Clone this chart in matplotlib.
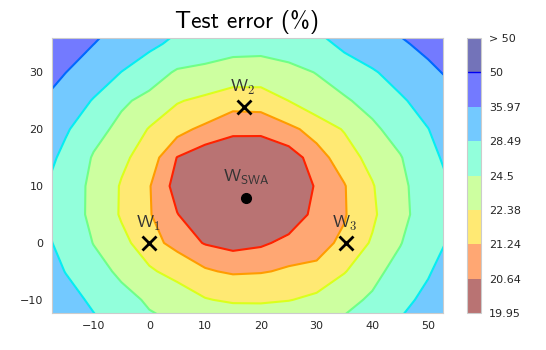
import os
import numpy as np
import matplotlib as mpl
import matplotlib.pyplot as plt
from matplotlib.font_manager import FontProperties

# grid of the loss plane (coords in the plane spanned by w1, w2, w3)
xs = [-20, -15, -10, -5, 0, 5, 10, 15, 20, 25, 30, 35, 40, 45, 50, 55]
ys = [-15, -10, -5, 0, 5, 10, 15, 20, 25, 30, 35, 40]

# test error (%), one row per y value
test_error = [
    [35.0, 32.2, 29.5, 27.2, 25.3, 24.6, 24.1, 23.9, 23.9, 24.1, 24.5, 25.2, 27.0, 29.2, 32.0, 35.0],
    [33.0, 30.2, 27.71, 25.54, 24.08, 23.27, 22.46, 22.18, 22.16, 22.32, 22.7, 23.7, 24.9, 27.15, 29.7, 33.0],
    [31.5, 28.35, 25.78, 23.86, 22.59, 21.85, 21.33, 21.13, 21.18, 21.34, 21.4, 22.28, 23.64, 25.58, 28.04, 31.5],
    [30.0, 27.14, 24.4, 22.82, 21.54, 20.97, 20.6, 20.45, 20.55, 20.79, 20.98, 21.4, 22.53, 24.35, 26.85, 29.5],
    [29.3, 26.2, 23.76, 22.21, 21.29, 20.66, 20.2, 19.99, 20.03, 20.3, 20.8, 21.17, 22.12, 23.66, 26.03, 29.1],
    [29.5, 26.26, 23.78, 22.24, 21.28, 20.4, 20.12, 19.95, 20.02, 20.25, 20.69, 21.19, 22.27, 23.8, 26.14, 29.1],
    [30.9, 27.35, 24.21, 22.74, 21.58, 20.62, 20.3, 20.15, 20.2, 20.4, 20.87, 21.7, 22.87, 24.3, 27.1, 30.4],
    [33.3, 29.0, 25.68, 23.61, 22.28, 21.48, 21.05, 20.8, 20.78, 21.0, 21.61, 22.49, 23.87, 25.86, 28.39, 32.3],
    [36.6, 32.3, 28.07, 25.04, 23.59, 22.49, 22.05, 21.5, 21.55, 22.39, 23.25, 24.1, 25.63, 27.74, 30.7, 34.2],
    [39.9, 36.05, 32.16, 28.4, 26.14, 24.1, 23.7, 23.35, 23.3, 23.7, 24.6, 26.23, 27.89, 30.75, 34.28, 37.9],
    [46.0, 40.6, 36.05, 32.7, 29.42, 27.5, 26.4, 25.5, 25.4, 26.0, 27.0, 29.5, 32.2, 34.9, 38.0, 43.0],
    [52.0, 45.0, 40.0, 36.0, 32.5, 30.0, 28.6, 28.0, 28.0, 28.8, 30.2, 32.5, 35.5, 39.0, 43.0, 48.0],
]

levels = [19.95, 20.64, 21.24, 22.38, 24.5, 28.49, 35.97, 50, 1e10]
level_labels = ['19.95', '20.64', '21.24', '22.38', '24.5', '28.49', '35.97', '50', '> 50']

# weights of the three networks and their average
w_x = [0, 16.9, 35.2]
w_y = [0, 23.9, 0]
w_names = [r'$\mathsf{W}_{\mathsf{1}}$', r'$\mathsf{W}_{\mathsf{2}}$', r'$\mathsf{W}_{\mathsf{3}}$']
swa_x = 17.4
swa_y = 7.9

plt.rcParams['mathtext.fontset'] = 'cm'
cmss = FontProperties(fname=os.path.join(mpl.get_data_path(), 'fonts', 'ttf', 'cmss10.ttf'))

fig = plt.figure(figsize=(5.46, 3.5), dpi=100)
ax = fig.add_axes([0.0947, 0.106, 0.716, 0.785])
cax = fig.add_axes([0.855, 0.106, 0.0256, 0.785])

cmap = plt.get_cmap('jet_r')
band_pos = [0.0, 0.195, 0.32, 0.45, 0.58, 0.72, 0.86, 1.0]
line_pos = [0.9 * k / 7 for k in range(8)]

X, Y = np.meshgrid(xs, ys)
Z = np.array(test_error)

cf = ax.contourf(X, Y, Z, levels=levels, colors=[cmap(p) for p in band_pos],
                 alpha=0.55, zorder=0)
ax.contour(X, Y, Z, levels=levels[1:-1], colors=[cmap(p) for p in line_pos[1:]],
           linewidths=1.5, zorder=1)

ax.plot(w_x, w_y, 'kx', ms=10, mew=2, zorder=3)
ax.plot([swa_x], [swa_y], 'ko', ms=7, zorder=3)

for x, y, name in zip(w_x, w_y, w_names):
    ax.text(x - 0.2, y + 3.4, name, ha='center', va='center', fontsize=13, color='#333333')
ax.text(swa_x, swa_y + 3.6, r'$\mathsf{W}_{\mathsf{SWA}}$', ha='center', va='center',
        fontsize=13, color='#333333')

ax.set_xlim(-17.5, 52.6)
ax.set_ylim(-12.3, 36)
ax.set_xticks([-10, 0, 10, 20, 30, 40, 50])
ax.set_yticks([-10, 0, 10, 20, 30])
ax.tick_params(length=0, labelsize=8, pad=6, colors='#262626')
for s in ax.spines.values():
    s.set_color('#cccccc')
ax.set_title('Test error (%)', fontproperties=cmss, fontsize=17, pad=7)

cbar = fig.colorbar(cf, cax=cax)
cbar.set_ticks(levels)
cbar.set_ticklabels(level_labels)
cbar.add_lines([50], [cmap(line_pos[-1])], [1.0])
cbar.ax.tick_params(length=0, labelsize=8, pad=6, colors='#262626')
cbar.outline.set_edgecolor('#cccccc')

fig.savefig('out.png', dpi=100)
